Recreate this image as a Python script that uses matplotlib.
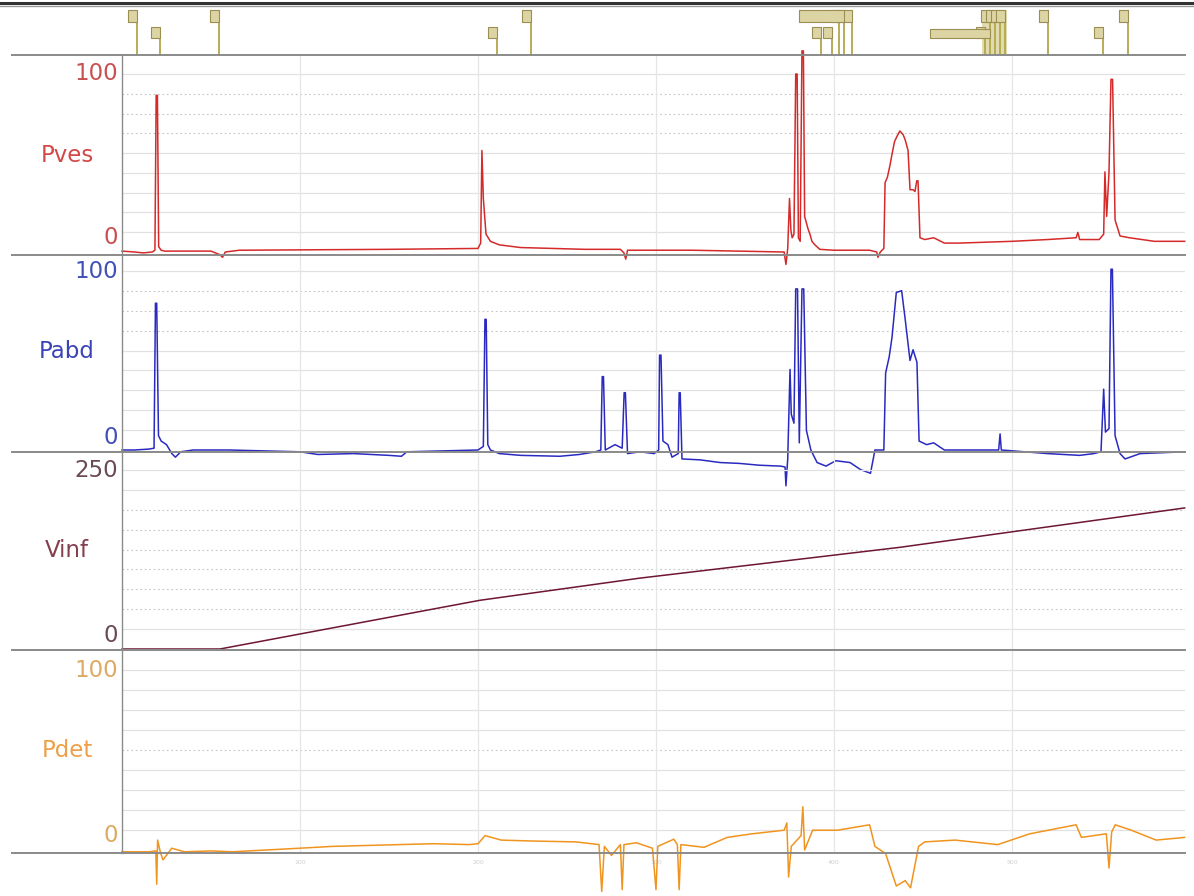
import matplotlib
matplotlib.use("Agg")
import matplotlib.pyplot as plt
from matplotlib.lines import Line2D
from matplotlib.patches import Rectangle

# ---------------- data (time in s) ----------------
pves_t = [0, 7, 12, 17, 18.5, 19.2, 19.9, 20.6, 22, 24, 50, 55, 56.5, 58, 66, 100, 150, 200,
          201.5, 202.2, 203, 204.5, 207, 212, 224, 260, 280, 282, 283, 284, 320, 372, 373, 374,
          375, 375.8, 376.5, 377.5, 378.5, 379.3, 380, 381, 382, 382.8, 383.5, 385.4, 386.5,
          387.6, 389.3, 392, 400, 420, 424, 424.7, 426, 428, 428.7, 430, 431.5, 432.6, 434,
          435.4, 437, 438.8, 440, 441.6, 442.7, 444.4, 445.5, 446.5, 447.2, 448.3, 451, 456,
          462, 470, 500, 520, 536, 537, 538, 549, 551.5, 552.2, 553.2, 554.5, 555.6, 556.5,
          557.9, 560.7, 566, 580, 597]
pves_v = [0.5, 0, -0.5, 0, 1, 88, 88, 3, 1, 0.5, 0.5, -1.5, -3, 0, 1, 1.2, 1.5, 2,
          5, 57, 30, 10, 6, 4, 2.5, 1.5, 1.5, -0.5, -4, 1, 1, 0, -7, 2,
          30, 12, 8, 10, 100, 100, 8, 6, 113, 113, 20, 13, 10,
          6, 4, 1.5, 1, 1, 0, -3, 0, 2, 39, 42, 49, 55, 62,
          65, 68, 66, 63, 57, 35, 35, 34, 40, 40, 8, 7, 8,
          5, 5, 6, 7, 8, 11, 7, 7, 10, 45, 20, 45, 97, 97,
          18, 9, 8, 6, 6]

pabd_t = [0, 7, 15, 18, 18.8, 19.5, 20.5, 22, 25, 28, 30, 33, 40, 60, 100, 110, 130, 150, 157,
          160, 180, 200, 203, 203.9, 204.6, 205.5, 207, 212, 224, 246, 257, 266, 269, 269.8,
          270.5, 271.5, 277, 281, 282.1, 282.8, 284, 291, 299, 301.5, 302, 302.8, 303.9,
          306.7, 309, 312.5, 313, 313.6, 314.6, 324.7, 336, 347, 358, 370, 372.5, 373, 374,
          375.3, 376, 377.5, 378.5, 379.5, 380.5, 382, 383, 384.5, 387, 390.5, 395.5, 401,
          409, 415, 420.5, 423, 428, 429, 431, 432.6, 435, 438, 440, 442.7, 444.4, 446.6,
          447.8, 452, 456, 462, 470, 490, 492.5, 493.3, 494, 520, 538, 546, 550, 551.5,
          552.5, 554.5, 555.6, 556.4, 557.9, 560.7, 563.5, 572, 597]
pabd_v = [0, 0, 0.5, 1, 82, 82, 8, 5, 3, -2, -4, -1, 0, 0, -1, -2.5, -2, -3, -3.5,
          -1, -0.5, 0, 2, 73, 73, 3, 0, -2, -3, -3.5, -2.5, -1, 0, 41,
          41, 0, 3, 1, 32, 32, -2, -1, -2, 0, 53, 53, 5,
          3, -4, -2, 32, 32, -5, -5.5, -7, -7.5, -8.5, -9, -9.5, -20, -5,
          45, 20, 15, 90, 90, 4, 90, 90, 11, 0, -7, -9, -6,
          -7, -11, -13, 0, 0, 43, 52, 63, 88, 89, 73, 50, 56, 49,
          5, 3, 4, 0, 0, 0, 0, 9, 0, -2, -3, -2, -1, 34,
          10, 12, 101, 101, 8, -2, -5, -2, -1]

vinf_t = [0, 55, 201, 291, 437, 597]
vinf_v = [0, 0, 68, 99, 142, 197]

pdet_t = [0, 15, 19, 19.5, 20, 21.5, 23, 28, 35, 50, 62, 81, 100, 118, 137, 156, 175, 195,
          200, 204, 213, 230, 255, 268, 269.5, 271, 275, 280, 281, 282, 289, 298, 300, 301,
          310, 312, 313, 314, 327, 340, 354, 372, 373.5, 374.5, 376, 381.5, 382.5, 383.5,
          388, 402, 420, 423, 429, 435, 440, 443, 447.5, 451, 468, 492, 510, 536, 539, 553,
          554.5, 556, 558, 567, 581, 597]
pdet_v = [-1, -1, -0.5, -19, 5.5, -1, -5.5, 1, -1, -0.5, -1, 0, 1, 2, 2.5, 3, 3.5, 3,
          3.5, 8, 5.5, 5, 4.5, 3, -23, 2, -3, 3, -22, 3, 4, 1, -22, 2,
          6, 3, -22, 3, 1.5, 7, 9, 11, 15, -15, 2, 8, 24, 0,
          11, 11, 14, 2, -2, -20, -17, -21, 2, 4.5, 5.5, 3, 9, 14, 7, 9,
          -10, 10, 14, 11, 5.5, 7]

# event flags (time in s, row of the label box)
flag_t = [8.4, 21.3, 54.5, 210.7, 229.8, 392.7, 398.9, 402.8, 405.6, 410.1,
          484.8, 487.6, 490.4, 493.3, 496.1, 520.2, 551.1, 565.2]
flag_row = ["hi", "lo", "hi", "lo", "hi", "lo", "lo", "hi", "hi", "hi",
            "lo", "hi", "hi", "hi", "hi", "hi", "lo", "hi"]

channel_names = ["Pves", "Pabd", "Vinf", "Pdet"]
scale_top = [100, 100, 250, 100]
x_tick_vals = [100, 200, 300, 400, 500]
x_tick_labels = ["100", "200", "300", "400", "500"]

# ---------------- layout ----------------
W, H = 1194, 896
fig = plt.figure(figsize=(W / 100, H / 100), dpi=100)
fig.patch.set_facecolor("white")

X0, X1 = 122, 1185
PX_PER_S = 1.78
XMAX = (X1 - X0) / PX_PER_S


def fx(x):
    return x / W


def fy(y):
    return 1 - y / H


# panels: (top px, bottom px, zero px, px per unit)
panels = [(55, 255, 252, 1.78), (255, 452, 450, 1.79), (452, 650, 649, 0.716), (650, 853, 850, 1.80)]
line_colors = ["#d42a2a", "#2a2ac0", "#6e1634", "#f0941e"]
name_colors = ["#d44848", "#3a44b8", "#84404f", "#eda04a"]
num_colors = ["#c85050", "#4050b8", "#6a4a55", "#dcaa62"]
name_pos = [155, 352, 550, 750]
zero_label_pos = [238, 437, 635, 835]
series = [(pves_t, pves_v), (pabd_t, pabd_v), (vinf_t, vinf_v), (pdet_t, pdet_v)]
dotted_rows = [(6, 7, 8), (6, 7, 8), (2, 3, 4, 5, 6, 7), (5,)]

axes = []
for i, (yt, yb, y0, ppu) in enumerate(panels):
    ax = fig.add_axes([fx(X0), fy(yb), fx(X1) - fx(X0), (yb - yt) / H])
    ax.set_xlim(0, XMAX)
    ax.set_ylim(-(yb - y0) / ppu, (y0 - yt) / ppu)
    ax.axis("off")
    top = scale_top[i]
    # horizontal grid
    for k in range(1, 10):
        v = top * k / 9
        if k in dotted_rows[i]:
            ax.axhline(v, color="#c4c4c4", lw=0.8, ls=(0, (1.5, 2.5)), zorder=1)
        else:
            ax.axhline(v, color="#e2e2e2", lw=0.9, zorder=1)
    for xv in x_tick_vals:
        ax.axvline(xv, color="#e6e6e6", lw=0.9, zorder=1)
    t, v = series[i]
    ax.plot(t, v, color=line_colors[i], lw=1.1, clip_on=False, zorder=5)
    # labels
    ytr = ax.get_yaxis_transform()
    ax.text((67 - X0) / (X1 - X0), (y0 - name_pos[i]) / ppu, channel_names[i],
            transform=ytr, ha="center", va="center", fontsize=16.5, color=name_colors[i])
    ax.text((118 - X0) / (X1 - X0), top, str(top), transform=ytr, ha="right",
            va="center", fontsize=16.5, color=num_colors[i])
    ax.text((118 - X0) / (X1 - X0), (y0 - zero_label_pos[i]) / ppu, "0", transform=ytr,
            ha="right", va="center", fontsize=16.5, color=num_colors[i])
    axes.append(ax)

# faint time labels
xtr = axes[3].get_xaxis_transform()
for xv, lab in zip(x_tick_vals, x_tick_labels):
    axes[3].text(xv, -(862 - 853) / (853 - 650), lab, transform=xtr, ha="center",
                 va="center", fontsize=4.5, color="#cfcfcf")

# ---------------- event flags ----------------
fax = fig.add_axes([fx(X0), fy(55), fx(X1) - fx(X0), 50 / H])
fax.set_xlim(0, XMAX)
fax.set_ylim(0, 50)
fax.axis("off")
box_w = 5.0
for t, row in zip(flag_t, flag_row):
    yb_, yt_ = (33, 45) if row == "hi" else (17, 28)
    fax.plot([t, t], [0, yt_], color="#b3a64a", lw=1.3, solid_capstyle="butt", zorder=2)
    fax.add_patch(Rectangle((t - box_w, yb_), box_w, yt_ - yb_, facecolor="#ddd4a4",
                            edgecolor="#9a8e52", lw=0.8, zorder=3))
# wide label boxes of the two clusters
fax.add_patch(Rectangle((380.3, 33), 25.3, 12, facecolor="#ddd4a4", edgecolor="#9a8e52", lw=0.8, zorder=3))
fax.add_patch(Rectangle((453.9, 17), 33.7, 9, facecolor="#ddd4a4", edgecolor="#9a8e52", lw=0.8, zorder=3))
fax.add_patch(Rectangle((483.0, 0), 14.0, 45, facecolor="#c8c070", edgecolor="none", alpha=0.55, zorder=1))

# ---------------- frame lines ----------------
def hline(y, x0=12, x1=X1, color="#8a8a8a", lw=1.4):
    fig.add_artist(Line2D([fx(x0), fx(x1)], [fy(y), fy(y)], color=color, lw=lw))


for y in (55, 255, 452, 650, 853):
    hline(y)
fig.add_artist(Line2D([fx(X0), fx(X0)], [fy(55), fy(853)], color="#8a8a8a", lw=1.0))
fig.add_artist(Line2D([0, 1], [fy(3.5), fy(3.5)], color="#333333", lw=2.2))
fig.add_artist(Line2D([0, 1], [fy(6), fy(6)], color="#9a9a9a", lw=1.0))

fig.savefig("out.png", dpi=100, facecolor="white")
